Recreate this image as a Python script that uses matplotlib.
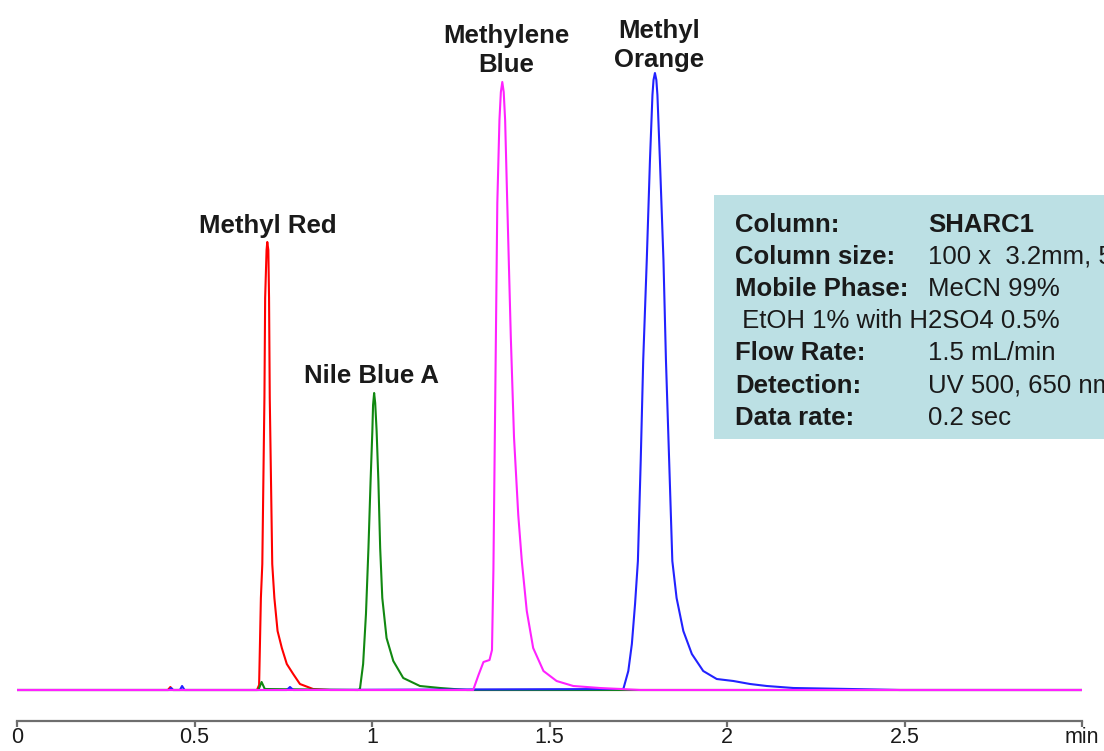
import matplotlib
matplotlib.use('Agg')
import matplotlib.pyplot as plt
from matplotlib.patches import Rectangle
import numpy as np

plt.rcParams['font.family'] = ['Liberation Sans', 'DejaVu Sans']

# ---- data (time in min, signal in arbitrary units) ----
red_t = [0.0, 0.425, 0.432, 0.439, 0.676, 0.682, 0.687, 0.691, 0.697, 0.699, 0.703, 0.705,
         0.708, 0.710, 0.712, 0.719, 0.725, 0.734, 0.746, 0.760, 0.778, 0.797, 0.834, 0.882, 3.0]
red_h = [0, 0, 3, 0, 0, 5, 92, 126, 293, 392, 440, 448,
         440, 392, 292, 126, 92, 59, 42, 26, 16, 6, 1, 0, 0]

green_t = [0.0, 0.680, 0.689, 0.698, 0.960, 0.966, 0.975, 0.983, 0.990, 0.996, 1.001, 1.003,
           1.006, 1.009, 1.013, 1.018, 1.023, 1.029, 1.041, 1.060, 1.088, 1.135, 1.192, 1.267, 3.0]
green_h = [0, 0, 8, 1, 0, 1, 26, 76, 142, 209, 259, 285,
           297, 287, 259, 209, 142, 92, 52, 29, 12, 4, 2, 0, 0]

magenta_t = [0.0, 1.285, 1.300, 1.314, 1.331, 1.338, 1.342, 1.345, 1.349, 1.353, 1.359, 1.363,
             1.367, 1.371, 1.375, 1.381, 1.391, 1.400, 1.412, 1.422, 1.436, 1.454, 1.483, 1.520,
             1.567, 1.642, 1.755, 3.0]
magenta_h = [0, 0, 15, 28, 30, 40, 120, 220, 353, 487, 570, 598,
             608, 598, 570, 487, 353, 253, 175, 129, 79, 42, 19, 9,
             4, 2, 0, 0]

blue_t = [0.0, 0.428, 0.434, 0.440, 0.459, 0.465, 0.472, 0.760, 0.769, 0.778,
          1.708, 1.722, 1.732, 1.741, 1.749, 1.757, 1.764, 1.774, 1.783, 1.790, 1.793, 1.797,
          1.801, 1.804, 1.811, 1.821, 1.828, 1.837, 1.846, 1.858, 1.877, 1.901, 1.933, 1.971,
          2.018, 2.065, 2.112, 2.187, 2.347, 2.487, 3.0]
blue_h = [0, 0, 2, 0, 0, 4, 0, 0, 3, 0,
          1, 19, 46, 86, 129, 230, 330, 430, 530, 595, 610, 617,
          610, 595, 530, 430, 330, 230, 129, 92, 59, 36, 19, 11,
          9, 6, 4, 2, 1, 0, 0]

trace_colors = ['#ff0000', '#118811', '#2222ff', '#ff22ff']
peak_names = ['Methyl Red', 'Nile Blue A', 'Methyl\nOrange', 'Methylene\nBlue']
label_offsets_px = [(1, 4), (-3, 5), (4, 1), (4, 5)]

tick_values = [0, 0.5, 1, 1.5, 2, 2.5, 3]
tick_labels = ['0', '0.5', '1', '1.5', '2', '2.5', 'min']

info_keys = ['Column:', 'Column size:', 'Mobile Phase:', '', 'Flow Rate:', 'Detection:', 'Data rate:']
info_vals = ['SHARC1', '100 x  3.2mm, 5 µm', 'MeCN 99%', '', '1.5 mL/min', 'UV 500, 650 nm', '0.2 sec']
info_extra = ' EtOH 1% with H2SO4 0.5%'

# ---- figure ----
W, H = 1104, 751
AX_BOTTOM_PX = 721
fig = plt.figure(figsize=(W / 100, H / 100), dpi=100)
ax = fig.add_axes([17 / W, (H - AX_BOTTOM_PX) / H, 1065 / W, AX_BOTTOM_PX / H])
ax.set_xlim(0, 3)
ax.set_ylim(-(AX_BOTTOM_PX - 690), 690)

series = [(red_t, red_h), (green_t, green_h), (blue_t, blue_h), (magenta_t, magenta_h)]
for (t, h), c, name, (dx, dy) in zip(series, trace_colors, peak_names, label_offsets_px):
    ax.plot(t, h, color=c, lw=1.5, solid_joinstyle='round')
    i = int(np.argmax(h))
    ax.annotate(name, xy=(t[i], h[i]), xytext=(dx * 0.72, dy * 0.72),
                textcoords='offset points', ha='center', va='bottom',
                fontsize=18.5, fontweight='bold', color='#1a1a1a',
                linespacing=1.28, multialignment='center')

for s in ['top', 'left', 'right']:
    ax.spines[s].set_visible(False)
ax.spines['bottom'].set_color('#6e6e6e')
ax.spines['bottom'].set_linewidth(1.6)
ax.set_yticks([])
ax.set_xticks(tick_values)
ax.set_xticklabels(tick_labels)
ax.tick_params(axis='x', direction='out', length=4.5, width=1.6, color='#6e6e6e',
               labelsize=15.5, labelcolor='#1a1a1a', pad=0)

# ---- info box ----
box_l, box_t, box_b = 714, 195, 439
fig.patches.append(Rectangle((box_l / W, 1 - box_b / H), (W + 10 - box_l) / W, (box_b - box_t) / H,
                             transform=fig.transFigure, facecolor='#bce0e4', edgecolor='none',
                             zorder=5))
baselines = [231.7, 263.9, 296.1, 328.3, 360.5, 392.7, 424.9]
for k, v, yb in zip(info_keys, info_vals, baselines):
    if k:
        fig.text(735 / W, 1 - yb / H, k, fontsize=18.5, fontweight='bold', color='#1a1a1a',
                 va='baseline', ha='left', zorder=6)
    if v:
        fig.text(928 / W, 1 - yb / H, v, fontsize=18.5,
                 fontweight='bold' if v == 'SHARC1' else 'normal', color='#1a1a1a',
                 va='baseline', ha='left', zorder=6)
fig.text(735 / W, 1 - baselines[3] / H, info_extra, fontsize=18.5, color='#1a1a1a',
         va='baseline', ha='left', zorder=6)

fig.savefig('out.png', dpi=100, facecolor='white')
